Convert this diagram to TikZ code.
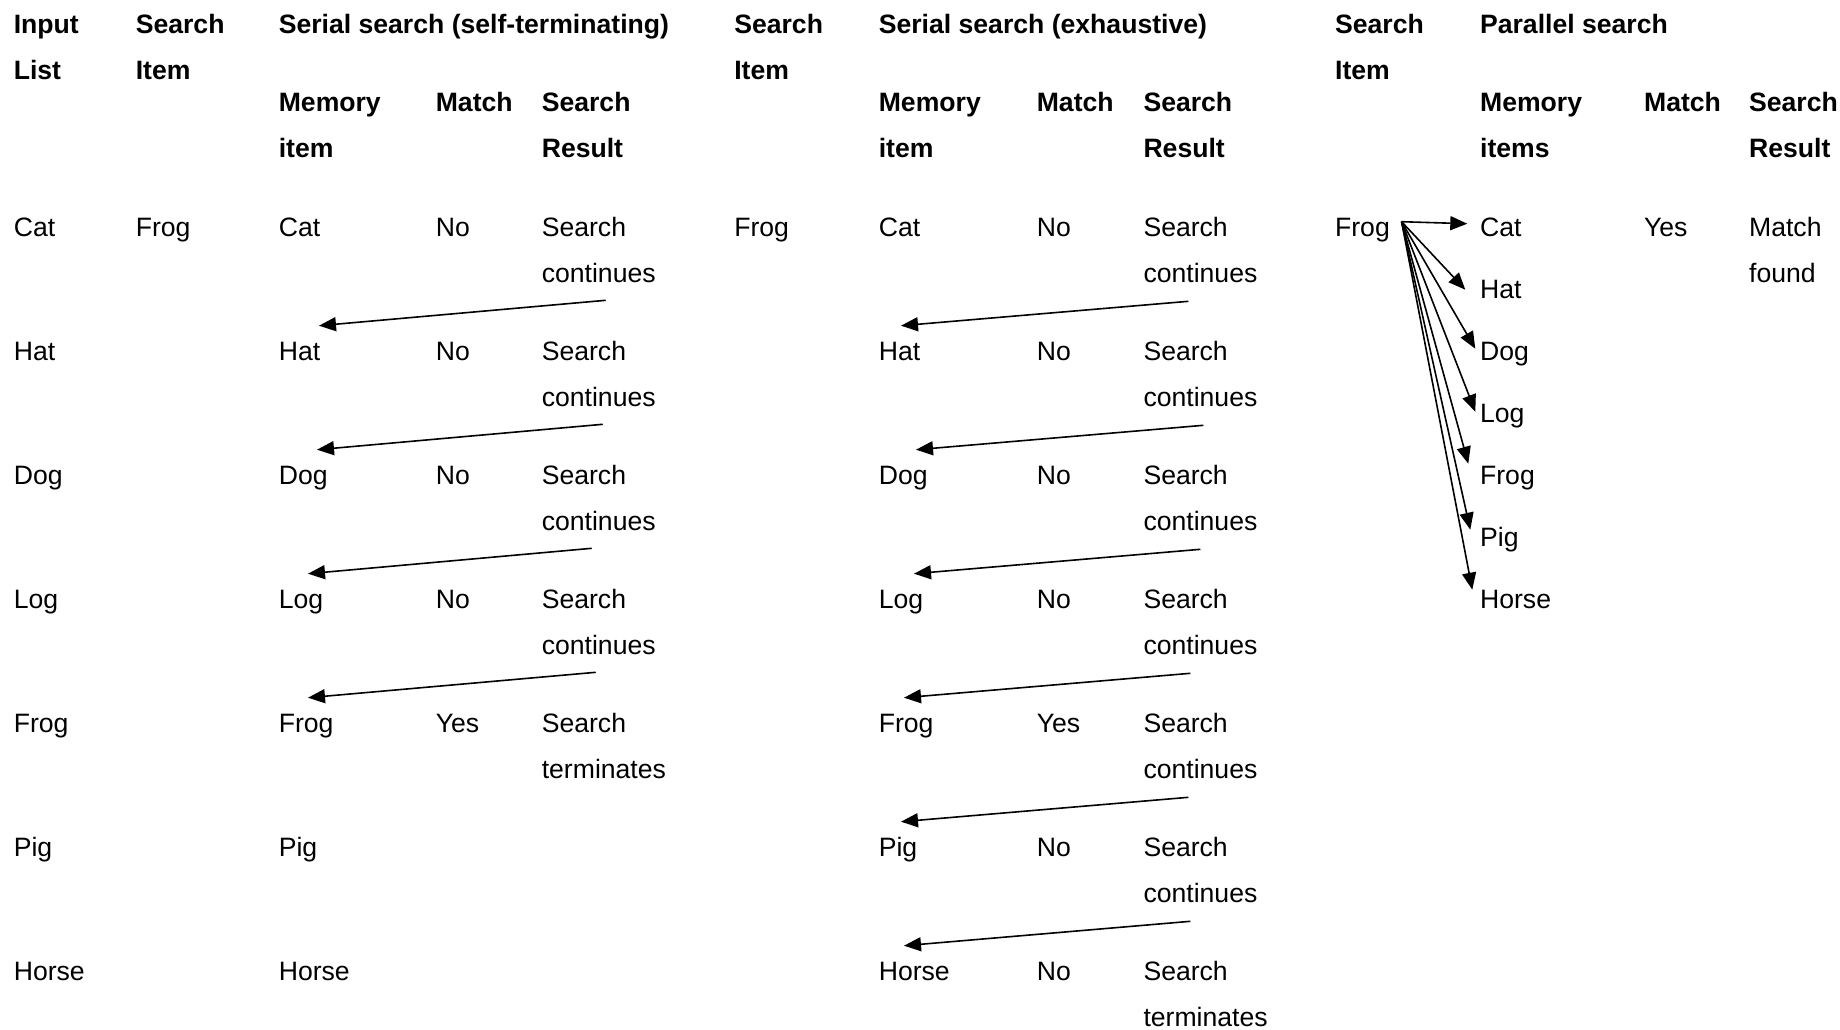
\documentclass[tikz,border=0pt]{standalone}
\usepackage{fontspec}
\setmainfont{Liberation Sans}
\usepackage{tikz}
\usetikzlibrary{arrows.meta}

\newcommand{\celltext}[1]{\begin{tabular}[t]{@{}l@{}}#1\end{tabular}}

\begin{document}
\begin{tikzpicture}[x=1pt,y=-1pt,->,>={Triangle[length=17pt,width=14pt]},line width=1.6pt,
  font=\fontsize{26.6pt}{46pt}\selectfont]

  \tikzstyle{cell}=[inner sep=0pt,anchor=base west]
  \tikzstyle{head}=[cell,font=\fontsize{26.6pt}{46pt}\selectfont\bfseries]

  \useasboundingbox (0,0) rectangle (1840,1029);

  % headers
  \node[head] (hIn) at (13,33.3) {\celltext{Input\\List}};
  \node[head] (hSiA) at (135,33.3) {\celltext{Search\\Item}};
  \node[head] (hA) at (278,33.3) {Serial search (self-terminating)};
  \node[head] (hMemA) at (278,111.7) {\celltext{Memory\\item}};
  \node[head] (hMatA) at (435,111.7) {Match};
  \node[head] (hResA) at (541,111.7) {\celltext{Search\\Result}};
  \node[head] (hSiB) at (733.5,33.3) {\celltext{Search\\Item}};
  \node[head] (hB) at (878,33.3) {Serial search (exhaustive)};
  \node[head] (hMemB) at (878,111.7) {\celltext{Memory\\item}};
  \node[head] (hMatB) at (1036,111.7) {Match};
  \node[head] (hResB) at (1142.7,111.7) {\celltext{Search\\Result}};
  \node[head] (hSiP) at (1334.3,33.3) {\celltext{Search\\Item}};
  \node[head] (hP) at (1479.3,33.3) {Parallel search};
  \node[head] (hMemP) at (1479.3,111.7) {\celltext{Memory\\items}};
  \node[head] (hMatP) at (1643.3,111.7) {Match};
  \node[head] (hResP) at (1748.3,111.7) {\celltext{Search\\Result}};

  % input list
  \foreach \w [count=\i] in {Cat,Hat,Dog,Log,Frog,Pig,Horse}
    \node[cell] (in\i) at (13,{236.7+124*(\i-1)}) {\w};

  % serial search (self-terminating)
  \node[cell] (sA) at (135,236.7) {Frog};
  \foreach \w [count=\i] in {Cat,Hat,Dog,Log,Frog,Pig,Horse}
    \node[cell] (mA\i) at (278,{236.7+124*(\i-1)}) {\celltext{\w}};
  \foreach \w [count=\i] in {No,No,No,No,Yes}
    \node[cell] (tA\i) at (435,{236.7+124*(\i-1)}) {\w};
  \foreach \w [count=\i] in {continues,continues,continues,continues,terminates}
    \node[cell] (rA\i) at (541,{236.7+124*(\i-1)}) {\celltext{Search\\\w}};
  \foreach \i/\dx/\ex in {1/7/41,2/4/39,3/-7/30,4/-3/30}
    \draw ([xshift=\dx pt,yshift=-3pt]rA\i.south) -- ([xshift=\ex pt,yshift=2pt]mA\the\numexpr\i+1\relax.north west);

  % serial search (exhaustive)
  \node[cell] (sB) at (733.5,236.7) {Frog};
  \foreach \w [count=\i] in {Cat,Hat,Dog,Log,Frog,Pig,Horse}
    \node[cell] (mB\i) at (878,{236.7+124*(\i-1)}) {\celltext{\w}};
  \foreach \w [count=\i] in {No,No,No,No,Yes,No,No}
    \node[cell] (tB\i) at (1036,{236.7+124*(\i-1)}) {\w};
  \foreach \w [count=\i] in {continues,continues,continues,continues,continues,continues,terminates}
    \node[cell] (rB\i) at (1142.7,{236.7+124*(\i-1)}) {\celltext{Search\\\w}};
  \foreach \i/\dx/\ex in {1/-12/23,2/3/38,3/0/36,4/-10/26,5/-12/23,6/-10/26}
    \draw ([xshift=\dx pt,yshift=-4pt]rB\i.south) -- ([xshift=\ex pt,yshift=2pt]mB\the\numexpr\i+1\relax.north west);

  % parallel search
  \node[cell] (sP) at (1334.3,236.7) {Frog};
  \foreach \w [count=\i] in {Cat,Hat,Dog,Log,Frog,Pig,Horse}
    \node[cell] (mP\i) at (1479.3,{236.7+62*(\i-1)}) {\w};
  \node[cell] (tP1) at (1643.3,236.7) {Yes};
  \node[cell] (rP1) at (1748.3,236.7) {\celltext{Match\\found}};
  \coordinate (fan) at ([shift={(11pt,15pt)}]sP.base east);
  \foreach \i/\dx/\dy in {1/-12/13,2/-14/9,3/-4/12,4/-4/11,5/-11/21,6/-9/17,7/-7/19}
    \draw (fan) -- ([shift={(\dx pt,\dy pt)}]mP\i.base west);

\end{tikzpicture}
\end{document}
